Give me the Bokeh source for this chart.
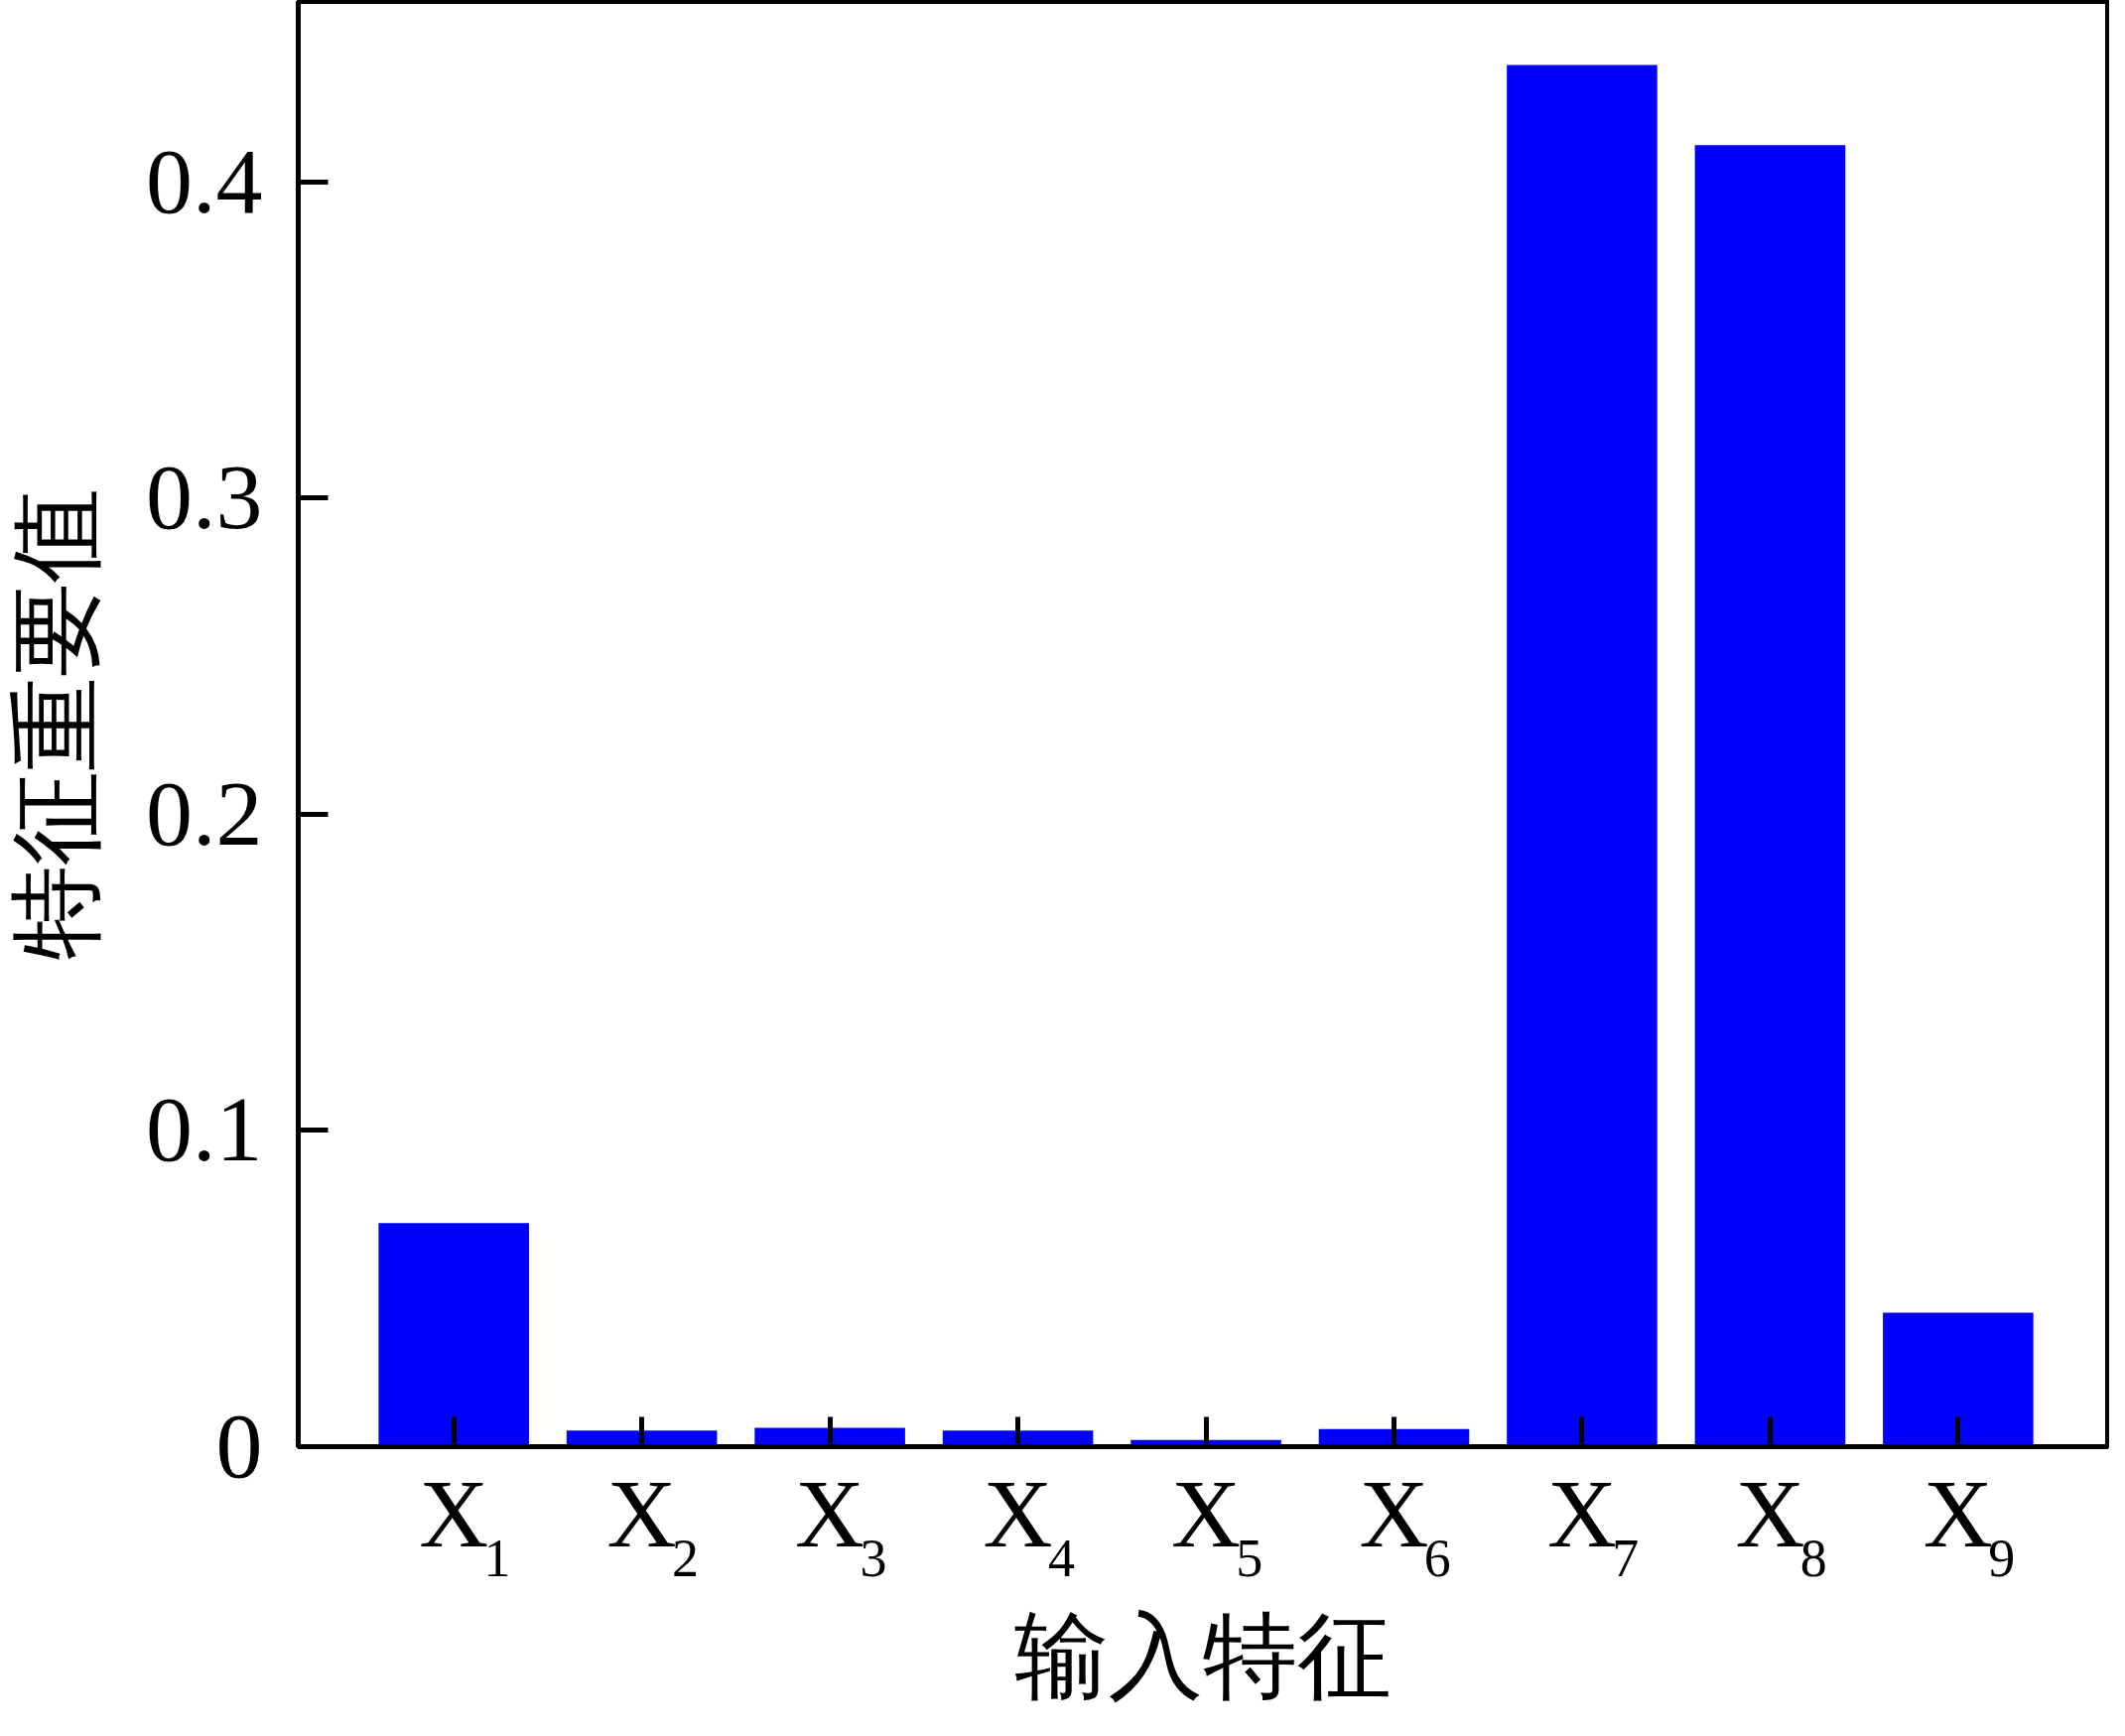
from bokeh.plotting import figure
from bokeh.models import Range1d, FixedTicker, LinearAxis
from bokeh.embed import file_html
from bokeh.resources import INLINE

categories = ["X1", "X2", "X3", "X4", "X5", "X6", "X7", "X8", "X9"]
subscripts = ["1", "2", "3", "4", "5", "6", "7", "8", "9"]
importance = [0.0707, 0.0051, 0.0060, 0.0051, 0.0021, 0.0056, 0.4369, 0.4116, 0.0424]
y_ticks = [0, 0.1, 0.2, 0.3, 0.4]
y_tick_labels = ["0", "0.1", "0.2", "0.3", "0.4"]
x_title = "输入特征"
y_title = "特征重要值"

xpos = list(range(1, len(categories) + 1))

W, H = 2125, 1733
LEFT, RIGHT, TOP, BOTTOM = 292, 2, 1, 276
X0, X1 = 0.173, 9.795
Y1 = 0.4570
p = figure(width=W, height=H, output_backend="svg", toolbar_location=None,
           x_range=Range1d(X0, X1), y_range=Range1d(0, Y1))
p.min_border_left = LEFT
p.min_border_right = RIGHT
p.min_border_top = TOP
p.min_border_bottom = BOTTOM
p.background_fill_color = "white"
p.border_fill_color = "white"
p.outline_line_color = "black"
p.outline_line_width = 5
p.xgrid.visible = False
p.ygrid.visible = False

p.vbar(x=xpos, top=importance, width=0.8, fill_color="#0000FF", line_color=None)

serif = "Liberation Serif"


def style(ax):
    ax.axis_line_width = 5
    ax.axis_line_color = "black"
    ax.major_tick_line_width = 5
    ax.major_tick_line_color = "black"
    ax.major_tick_in = 30
    ax.major_tick_out = 0
    ax.minor_tick_line_color = None
    ax.major_label_text_font = serif
    ax.major_label_text_color = "black"
    # Chinese glyphs fall back to the installed CJK font
    ax.axis_label_text_font = serif
    ax.axis_label_text_font_style = "normal"
    ax.axis_label_text_color = "black"
    ax.axis_label_text_font_size = "95px"


xa = p.xaxis[0]
ya = p.yaxis[0]
style(xa)
style(ya)

ya.ticker = FixedTicker(ticks=y_ticks)
ya.major_label_overrides = {t: l for t, l in zip(y_ticks, y_tick_labels)}
ya.major_label_text_font_size = "94px"
ya.major_label_standoff = 36
ya.axis_label = y_title
ya.axis_label_standoff = 34

xa.ticker = FixedTicker(ticks=xpos)
xa.major_label_overrides = {x: "X" for x in xpos}
xa.major_label_text_font_size = "97px"
xa.major_label_standoff = 14

# subscript digits: a second bottom axis on a range shifted so that its labels sit right of each "X"
px_per_unit = (W - LEFT - RIGHT) / (X1 - X0)
shift = 44 / px_per_unit
p.extra_x_ranges = {"sub": Range1d(X0 - shift, X1 - shift)}
sa = LinearAxis(x_range_name="sub", ticker=FixedTicker(ticks=xpos),
                major_label_overrides={x: s for x, s in zip(xpos, subscripts)})
style(sa)
sa.axis_line_color = None
sa.major_tick_line_color = None
sa.major_tick_in = 0
sa.major_label_text_font_size = "54px"
sa.major_label_standoff = -30
sa.axis_label = x_title
sa.axis_label_standoff = 25
p.add_layout(sa, "below")

open("out.html", "w").write(file_html(p, INLINE))
